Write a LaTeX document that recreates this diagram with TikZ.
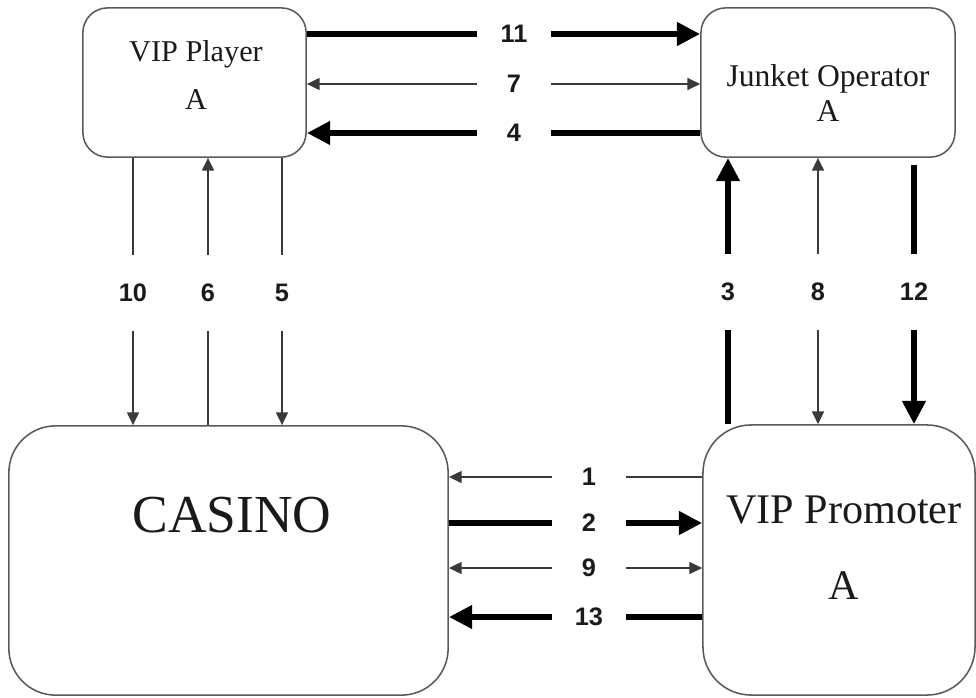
\documentclass[tikz,border=0pt]{standalone}
\usepackage{fontspec}
\setmainfont{Liberation Serif}
\newfontfamily\numfont{Liberation Sans}
\usetikzlibrary{arrows.meta}
\definecolor{boxgray}{HTML}{5A5A5A}
\definecolor{linegray}{HTML}{3A3A3A}
\definecolor{inkblack}{HTML}{1A1A1A}

\begin{document}
\begin{tikzpicture}[x=0.025cm, y=-0.025cm,
  rbox/.style={draw=boxgray, line width=1.1pt, rounded corners=#1, inner sep=0pt},
  boxtext/.style={align=center, text=inkblack, inner sep=0pt},
  num/.style={font=\numfont\bfseries\fontsize{18}{20}\selectfont, text=inkblack,
              minimum width=1.85cm, minimum height=1.9cm, inner sep=0pt},
  thinln/.style={draw=linegray, line width=1.1pt},
  thickln/.style={draw=black, line width=4.2pt},
  thinarr/.style={thinln, -{Triangle[length=0.32cm, width=0.3cm]}},
  thickarr/.style={thickln, -{Triangle[length=0.58cm, width=0.56cm]}}]
\useasboundingbox (0,0) rectangle (976,698);

%% The four parties
\node[rbox=0.62cm, minimum width=5.58cm, minimum height=3.73cm] (player)   at (194.5,82.5) {};
\node[rbox=0.62cm, minimum width=6.35cm, minimum height=3.73cm] (junket)   at (828,82.5)   {};
\node[rbox=1.17cm, minimum width=10.98cm, minimum height=6.73cm] (casino)  at (228.5,560.5) {};
\node[rbox=1.2cm,  minimum width=6.8cm,  minimum height=6.75cm] (promoter) at (839,560)    {};

\node[boxtext, font=\fontsize{21.5}{34}\selectfont] (playertxt)   at (196,75)  {VIP Player\\A};
\node[boxtext, font=\fontsize{22.5}{25}\selectfont] (junkettxt)   at (828,93)  {Junket Operator\\A};
\node[boxtext, font=\fontsize{38}{40}\selectfont]   (casinotxt)   at (232,515) {CASINO};
\node[boxtext, font=\fontsize{30}{54}\selectfont]   (promotertxt) at (844,548) {VIP Promoter\\A};

%% Step numbers sitting in the gaps of the arrows
\foreach \n/\x/\y in {11/514/34, 7/514/84, 4/514/133,
                      1/589/477, 2/589/523, 9/589/568, 13/589/617,
                      10/133/293, 6/208/293, 5/282/293,
                      3/728/292, 8/818/292, 12/914/292}{
  \node[num] (n\n) at (\x,\y) {\n};
}

%% Player <-> Junket operator
\draw[thickln]  (player.east |- n11) -- (n11);
\draw[thickarr] (n11) -- (junket.west |- n11);
\draw[thinarr]  (n7) -- (player.east |- n7);
\draw[thinarr]  (n7) -- (junket.west |- n7);
\draw[thickln]  (junket.west |- n4) -- (n4);
\draw[thickarr] (n4) -- (player.east |- n4);

%% Promoter <-> Casino
\draw[thinln]   (promoter.west |- n1) -- (n1);
\draw[thinarr]  (n1) -- (casino.east |- n1);
\draw[thickln]  (casino.east |- n2) -- (n2);
\draw[thickarr] (n2) -- (promoter.west |- n2);
\draw[thinarr]  (n9) -- (casino.east |- n9);
\draw[thinarr]  (n9) -- (promoter.west |- n9);
\draw[thickln]  (promoter.west |- n13) -- (n13);
\draw[thickarr] (n13) -- (casino.east |- n13);

%% Player <-> Casino
\draw[thinln]   (player.south -| n10) -- (n10);
\draw[thinarr]  (n10) -- (casino.north -| n10);
\draw[thinln]   (casino.north -| n6) -- (n6);
\draw[thinarr]  (n6) -- (player.south -| n6);
\draw[thinln]   (player.south -| n5) -- (n5);
\draw[thinarr]  (n5) -- (casino.north -| n5);

%% Promoter <-> Junket operator
\draw[thickln]  (promoter.north -| n3) -- (n3);
\draw[thickarr] (n3) -- (junket.south -| n3);
\draw[thinarr]  (n8) -- (junket.south -| n8);
\draw[thinarr]  (n8) -- (promoter.north -| n8);
\draw[thickln, shorten <=0.17cm] (junket.south -| n12) -- (n12);
\draw[thickarr] (n12) -- (promoter.north -| n12);
\end{tikzpicture}
\end{document}
